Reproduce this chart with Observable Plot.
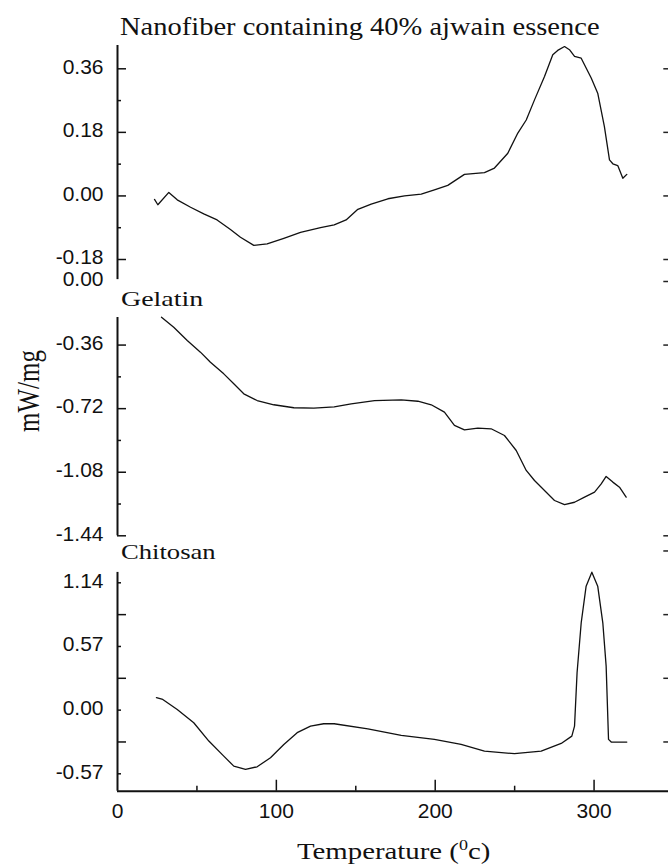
<!DOCTYPE html>
<html><head><meta charset="utf-8">
<script src="https://cdn.jsdelivr.net/npm/d3@7"></script>
<script src="https://cdn.jsdelivr.net/npm/@observablehq/plot@0.6"></script>
<style>
body{margin:0;background:#fff;}
#chart{position:relative;width:668px;height:864px;overflow:hidden;background:#fff;}
.p{position:absolute;left:0;}
.lbl{position:absolute;font-family:"Liberation Serif","Times New Roman",serif;color:#111;white-space:nowrap;line-height:1;transform-origin:0 0;}
</style></head><body><div id="chart"></div>
<script>
// ---- data (temperature °C, heat flow mW/mg) ----
const nanofiberT = [23.3,25.4,32.3,37.6,46,54.3,62.7,71.1,77.4,85.8,94.2,104.7,115.2,127.8,136.4,143.9,151.3,159.7,170.2,180.7,191.2,199.5,207.9,218.4,231,237.3,245.7,252,257.3,262.5,268.8,274,277.1,281.4,284.5,287.7,291.9,298.2,302.3,306.5,309.7,311.8,314.9,318.1,320.6];
const nanofiberV = [-0.01,-0.025,0.01,-0.011,-0.032,-0.051,-0.068,-0.095,-0.117,-0.14,-0.136,-0.12,-0.103,-0.09,-0.082,-0.068,-0.038,-0.023,-0.008,0,0.005,0.017,0.03,0.061,0.066,0.079,0.121,0.178,0.215,0.272,0.338,0.4,0.412,0.423,0.414,0.395,0.39,0.334,0.291,0.196,0.102,0.091,0.086,0.05,0.061];
const gelatinT = [27.7,35.4,43.9,52.2,58.5,66.9,73.2,79.5,87.9,98.4,111,123.6,136.4,147.1,161.8,178.6,189.1,197.5,205.8,212.1,218.4,226.8,235.2,243.6,251,257.3,262.5,268.8,275.1,281.4,287.7,294,300.3,304.5,307.6,311.8,316,320.2];
const gelatinV = [-0.202,-0.259,-0.334,-0.4,-0.457,-0.523,-0.579,-0.636,-0.674,-0.698,-0.715,-0.717,-0.71,-0.693,-0.674,-0.67,-0.678,-0.698,-0.74,-0.815,-0.84,-0.83,-0.834,-0.872,-0.957,-1.07,-1.127,-1.183,-1.24,-1.264,-1.25,-1.221,-1.193,-1.146,-1.104,-1.136,-1.165,-1.221];
const chitosanT = [24.5,28.5,37.6,48,57.5,66.9,73.2,80.6,87.9,96.3,104.7,113.1,121.5,129.8,136.4,157.6,178.6,199.5,216.3,231,249.9,266.7,279.3,286,287.7,289.3,291.9,295,298.6,302.3,305.5,307.6,309.1,310.8,320.6];
const chitosanV = [0.111,0.096,0.006,-0.113,-0.277,-0.412,-0.501,-0.531,-0.507,-0.426,-0.307,-0.202,-0.143,-0.122,-0.122,-0.167,-0.226,-0.262,-0.307,-0.367,-0.39,-0.367,-0.298,-0.233,-0.143,0.335,0.782,1.11,1.235,1.11,0.782,0.394,-0.262,-0.286,-0.286];

// ---- tick values ----
const xMajorTicks = [0, 100, 200, 300];
const xMinorTicks = [50, 150, 250];
const topLabelTicks = [0.36, 0.18, 0, -0.18];
const topMinorTicks = [0.27, 0.09, -0.09];
const midLabelTicks = [0, -0.36, -0.72, -1.08, -1.44];
const midMinorTicks = [-0.54, -0.90, -1.26];
const botLabelTicks = [1.14, 0.57, 0, -0.57];
const botLongTicks = [0.855, 0.285, -0.285];
const botRightTicks = [1.425, 0.855, 0.285, -0.285];

const zip = (T, V) => T.map((t, i) => ({t, v: V[i]}));

const PX = 1.5887; // px per °C
const chart = document.getElementById("chart");

function panel(o) {
  const marks = [
    Plot.ruleX([0], {y1: o.axisTop, y2: o.axisBottom, strokeWidth: 2, stroke: "#111"}),
    Plot.ruleY(o.longTicks, {x1: 0, x2: 9 / PX, strokeWidth: 1.5, stroke: "#111"}),
    Plot.ruleY(o.shortTicks, {x1: 0, x2: 4 / PX, strokeWidth: 1.5, stroke: "#111"}),
    Plot.ruleY(o.rightTicks, {x1: 343.9, x2: 350, strokeWidth: 1.5, stroke: "#222"}),
    Plot.axisY({ticks: o.labelTicks, tickSize: 0, tickPadding: 14, dy: -2, label: null,
      tickFormat: d => d.toFixed(2), fontSize: 21}),
    Plot.line(o.data, {x: "t", y: "v", stroke: "#111", strokeWidth: 1.3})
  ];
  if (o.xAxis) {
    marks.push(
      Plot.ruleY([o.axisBottom], {x1: 0, x2: 350, strokeWidth: 2, stroke: "#111"}),
      Plot.ruleX(xMajorTicks.slice(1), {y1: o.axisBottom, y2: o.axisBottom + 11 / o.pxPerUnit, strokeWidth: 1.5, stroke: "#111"}),
      Plot.ruleX(xMinorTicks, {y1: o.axisBottom, y2: o.axisBottom + 5 / o.pxPerUnit, strokeWidth: 1.5, stroke: "#111"}),
      Plot.axisX({ticks: xMajorTicks, tickSize: 0, tickPadding: 12, fontSize: 21, label: null, tickFormat: d => String(d)})
    );
  }
  const svg = Plot.plot({
    width: 668, height: o.H,
    marginLeft: 117, marginRight: 0, marginTop: 0,
    marginBottom: o.xAxis ? o.H - (790.7 - o.T) : 0,
    style: {background: "transparent", overflow: "visible", fontFamily: "'Liberation Sans', Arial, sans-serif", fontSize: "21px", color: "#111"},
    x: {domain: [0, 350], range: [117, 673], axis: null, label: null},
    y: {domain: o.yDomain, range: o.yRange.map(v => v - o.T), axis: null, label: null},
    marks
  });
  const div = document.createElement("div");
  div.className = "p";
  div.style.top = o.T + "px";
  div.appendChild(svg);
  chart.appendChild(div);
}

// Nanofiber panel
panel({T: 0, H: 282, data: zip(nanofiberT, nanofiberV),
  yDomain: [-0.18, 0.36], yRange: [259, 68.3], axisTop: 0.426, axisBottom: -0.237,
  labelTicks: topLabelTicks, longTicks: topLabelTicks, shortTicks: topMinorTicks,
  rightTicks: topLabelTicks});
// Gelatin panel
panel({T: 282, H: 262, data: zip(gelatinT, gelatinV),
  yDomain: [-1.44, 0], yRange: [535.3, 281], axisTop: -0.204, axisBottom: -1.44,
  labelTicks: midLabelTicks, longTicks: midLabelTicks.slice(1), shortTicks: midMinorTicks,
  rightTicks: midLabelTicks});
// Chitosan panel
panel({T: 544, H: 320, data: zip(chitosanT, chitosanV), xAxis: true, pxPerUnit: 111.7,
  yDomain: [-0.57, 1.14], yRange: [773.3, 582.3], axisTop: 1.233, axisBottom: -0.726,
  labelTicks: botLabelTicks, longTicks: botLongTicks, shortTicks: botLabelTicks,
  rightTicks: botRightTicks});

// ---- text labels ----
function label(text, css) {
  const d = document.createElement("div");
  d.className = "lbl";
  d.innerHTML = text;
  Object.assign(d.style, css);
  chart.appendChild(d);
  return d;
}
label("Nanofiber containing 40% ajwain essence", {left: "120px", top: "14px", fontSize: "25px", transform: "scaleX(1.14)"});
label("Gelatin", {left: "121px", top: "288px", fontSize: "22px", transform: "scaleX(1.27)"});
label("Chitosan", {left: "121px", top: "541px", fontSize: "22px", transform: "scaleX(1.21)"});
label("Temperature (<sup style='font-size:15px;vertical-align:9px'>0</sup>c)", {left: "297px", top: "838px", fontSize: "24px", transform: "scaleX(1.2)"});
label("mW/mg", {left: "28px", top: "391px", fontSize: "25px", transformOrigin: "50% 50%", transform: "translate(-50%,-50%) rotate(-90deg) scaleY(1.25)"});
</script></body></html>
